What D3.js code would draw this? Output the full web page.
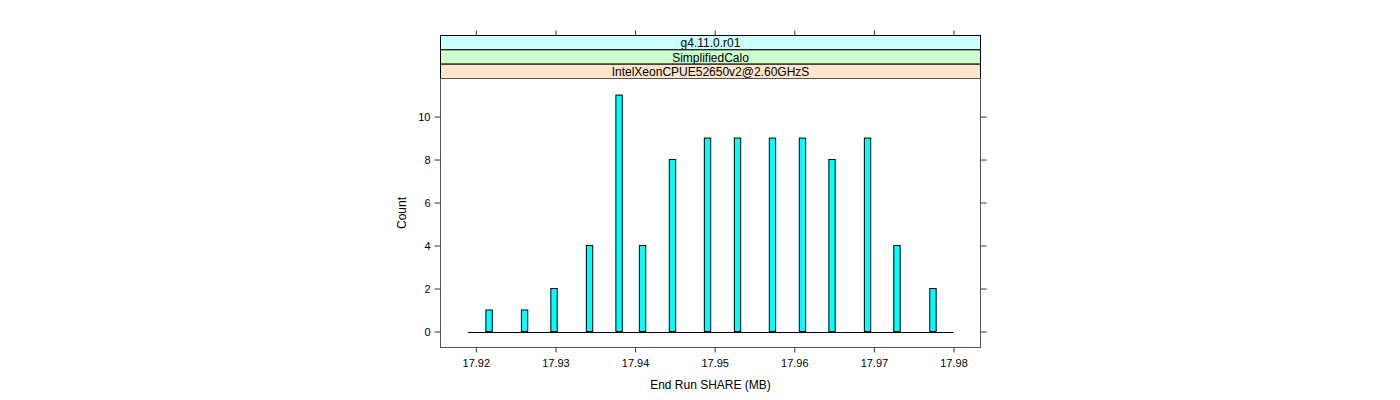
<!DOCTYPE html>
<html>
<head>
<meta charset="utf-8">
<script src="https://cdn.jsdelivr.net/npm/d3@7/dist/d3.min.js"></script>
<style>
  body { margin: 0; background: #fff; }
  svg { display: block; }
  text { font-family: "Liberation Sans", Arial, sans-serif; }
</style>
</head>
<body>
<svg id="chart" width="1400" height="400"></svg>
<script>
// ---- data ----
const binCenters = [17.92166, 17.92612, 17.92982, 17.93428, 17.93799, 17.94094, 17.94470,
                    17.94910, 17.95287, 17.95726, 17.96103, 17.96474, 17.96920, 17.97290, 17.97742];
const counts = [1, 1, 2, 4, 11, 4, 8, 9, 9, 9, 9, 8, 9, 4, 2];
const binWidth = 0.0008;
const histRange = [17.919, 17.98];
const xTicks = [17.92, 17.93, 17.94, 17.95, 17.96, 17.97, 17.98];
const yTicks = [0, 2, 4, 6, 8, 10];
const stripLabels = ["g4.11.0.r01", "SimplifiedCalo", "IntelXeonCPUE52650v2@2.60GHzS"];
const stripColors = ["#ccffff", "#ccffcc", "#ffe5cc"];
const xLabel = "End Run SHARE (MB)";
const yLabel = "Count";

// ---- layout ----
const left = 440.5, right = 980.5, panelTop = 78.5, panelBottom = 347.5, stripTop = 35.5;
const stripH = (panelTop - stripTop) / 3;

const svg = d3.select("#chart");
const x = d3.scaleLinear().domain([17.91556, 17.98339]).range([left, right]);
const y = d3.scaleLinear().domain([-0.744, 11.77]).range([panelBottom, panelTop]);

// bars
svg.append("g").selectAll("rect").data(binCenters).join("rect")
  .attr("x", (d) => x(d - binWidth / 2))
  .attr("width", (d) => x(d + binWidth / 2) - x(d - binWidth / 2))
  .attr("y", (d, i) => y(counts[i]))
  .attr("height", (d, i) => y(0) - y(counts[i]))
  .attr("fill", "#00ffff")
  .attr("stroke", "#000")
  .attr("stroke-width", 1);

// baseline
svg.append("line")
  .attr("x1", x(histRange[0])).attr("x2", x(histRange[1]))
  .attr("y1", Math.round(y(0)) + 0.5).attr("y2", Math.round(y(0)) + 0.5)
  .attr("stroke", "#000").attr("stroke-width", 1);

// strips
stripLabels.forEach((lab, i) => {
  const yy = stripTop + i * stripH;
  svg.append("rect").attr("x", left).attr("y", yy).attr("width", right - left).attr("height", stripH)
    .attr("fill", stripColors[i]).attr("stroke", "#000").attr("stroke-width", 1);
  svg.append("text").attr("x", (left + right) / 2).attr("y", yy + stripH / 2 + 4.5)
    .attr("text-anchor", "middle").attr("font-size", 12).attr("fill", "#000").text(lab);
});

// panel border
svg.append("rect").attr("x", left).attr("y", panelTop).attr("width", right - left)
  .attr("height", panelBottom - panelTop).attr("fill", "none").attr("stroke", "#555").attr("stroke-width", 1);

// axes
const xb = d3.axisBottom(x).tickValues(xTicks).tickSize(5).tickPadding(7).tickFormat(d3.format(".2f"));
const gx = svg.append("g").attr("transform", `translate(0,${panelBottom})`).call(xb);
const xt = d3.axisTop(x).tickValues(xTicks).tickSize(5).tickFormat("");
const gxt = svg.append("g").attr("transform", `translate(0,${stripTop})`).call(xt);
const yl = d3.axisLeft(y).tickValues(yTicks).tickSize(6).tickPadding(4);
const gy = svg.append("g").attr("transform", `translate(${left},0)`).call(yl);
const yr = d3.axisRight(y).tickValues(yTicks).tickSize(6).tickFormat("");
const gyr = svg.append("g").attr("transform", `translate(${right},0)`).call(yr);

[gx, gxt, gy, gyr].forEach((g) => {
  g.select(".domain").remove();
  g.selectAll("line").attr("stroke", "#333");
  g.selectAll("text").attr("font-size", 11).attr("fill", "#000")
    .attr("font-family", "'Liberation Sans', Arial, sans-serif");
});

// titles
svg.append("text").attr("x", (left + right) / 2).attr("y", 389).attr("text-anchor", "middle")
  .attr("font-size", 12).attr("fill", "#000").text(xLabel);
svg.append("text").attr("transform", `translate(406,${(panelTop + panelBottom) / 2}) rotate(-90)`)
  .attr("text-anchor", "middle").attr("font-size", 12).attr("fill", "#000").text(yLabel);
</script>
</body>
</html>
